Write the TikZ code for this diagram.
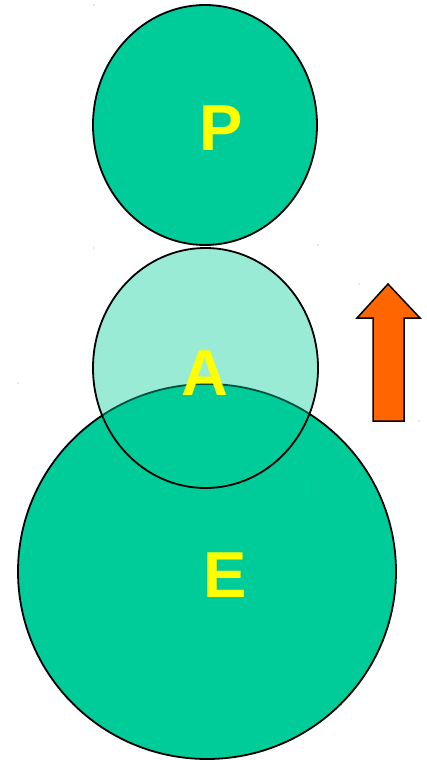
\documentclass[tikz,border=0pt]{standalone}
\usepackage{fontspec}
\setmainfont{Liberation Sans}
\usetikzlibrary{shapes.geometric}
\definecolor{teal1}{HTML}{00CC99}
\definecolor{orangeA}{HTML}{FF6600}
\definecolor{yel}{HTML}{FFFF00}
\tikzset{
  blob/.style={draw=black, line width=1.8pt, fill=teal1, ellipse, inner sep=0pt},
  lbl/.style={text=yel, font=\bfseries\fontsize{65}{65}\selectfont, inner sep=0pt, anchor=base},
  tick/.style={fill=gray!70, inner sep=0pt, minimum size=1.2pt, circle}
}
\begin{document}
\begin{tikzpicture}[x=1pt,y=-1pt]
\useasboundingbox (0,0) rectangle (426,760);
\node[blob, minimum width=224pt, minimum height=240pt] (P) at (205,125) {};
\node[blob, minimum width=378pt, minimum height=375pt] (E) at (207,571.5) {};
\node[blob, fill opacity=0.4, minimum width=225pt, minimum height=240pt] (A) at (205.5,368) {};
\node[lbl] (Pl) at (221,150) {P};
\node[lbl] (Al) at (204.5,395) {A};
\node[lbl] (El) at (225.5,597) {E};
\draw[fill=orangeA, line width=1.5pt, line join=miter]
  (388,284) -- (420,318) -- (404,318) -- (404,421) -- (373,421) -- (373,318) -- (357,318) -- cycle;
\foreach \x/\y [count=\i] in {94/5, 94/248, 318/245, 318/488, 359/284, 419/421, 18/383}
  \node[tick] (t\i) at (\x,\y) {};
\end{tikzpicture}
\end{document}
